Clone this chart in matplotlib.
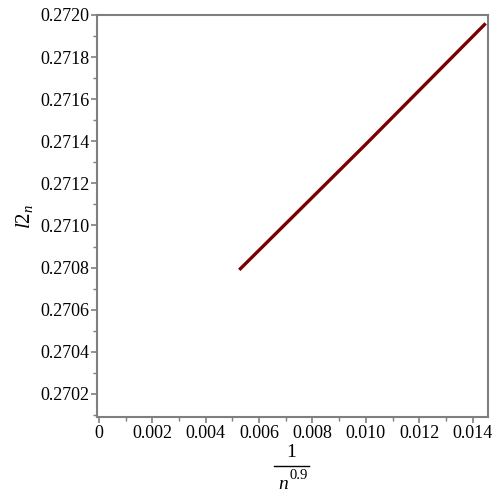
import matplotlib
matplotlib.use("Agg")
import matplotlib.pyplot as plt
from matplotlib.ticker import MultipleLocator, FuncFormatter
from matplotlib.lines import Line2D

plt.rcParams['font.family'] = ['Liberation Serif', 'DejaVu Serif']
plt.rcParams['mathtext.fontset'] = 'custom'
plt.rcParams['mathtext.rm'] = 'Liberation Serif'
plt.rcParams['mathtext.it'] = 'Liberation Serif:italic'

# valores
x_vals = [0.005256, 0.0100, 0.01449]
y_vals = [0.270789, 0.271386, 0.271960]

gris = '#7f7f7f'

fig = plt.figure(figsize=(5, 5), dpi=100)
ax = fig.add_axes([0.194, 0.166, 0.781, 0.804])

ax.plot(x_vals, y_vals, color='#7a0000', linewidth=2.4, solid_capstyle='butt')

ax.set_xlim(-0.000075, 0.01456)
ax.set_ylim(0.27009, 0.27200)

ax.xaxis.set_major_locator(MultipleLocator(0.002))
ax.xaxis.set_minor_locator(MultipleLocator(0.001))
ax.yaxis.set_major_locator(MultipleLocator(0.0002))
ax.yaxis.set_minor_locator(MultipleLocator(0.0001))

ax.xaxis.set_major_formatter(FuncFormatter(lambda v, p: '0' if abs(v) < 1e-9 else '%.3f' % v))
ax.yaxis.set_major_formatter(FuncFormatter(lambda v, p: '%.4f' % v))

for s in ax.spines.values():
    s.set_color(gris)
    s.set_linewidth(1.5)

ax.tick_params(which='both', direction='out', color=gris, labelsize=13, pad=1)
ax.tick_params(which='major', length=4.5, width=1.2)
ax.tick_params(which='minor', length=3, width=1.0)

# etiqueta x como fraccion 1 / n^0.9 (a mano, estilo Maple)
fig.text(0.582, 0.086, '1', fontsize=14, ha='center', va='baseline')
fig.add_artist(Line2D([0.548, 0.618], [0.068, 0.068], color='black', linewidth=1.0))
fig.text(0.566, 0.022, 'n', fontsize=14, style='italic', ha='center', va='baseline')
fig.text(0.597, 0.042, '0.9', fontsize=10.5, ha='center', va='baseline')

ax.set_ylabel(r'$l2_{n}$', fontsize=15, labelpad=4)

plt.savefig('out.png', dpi=100)
